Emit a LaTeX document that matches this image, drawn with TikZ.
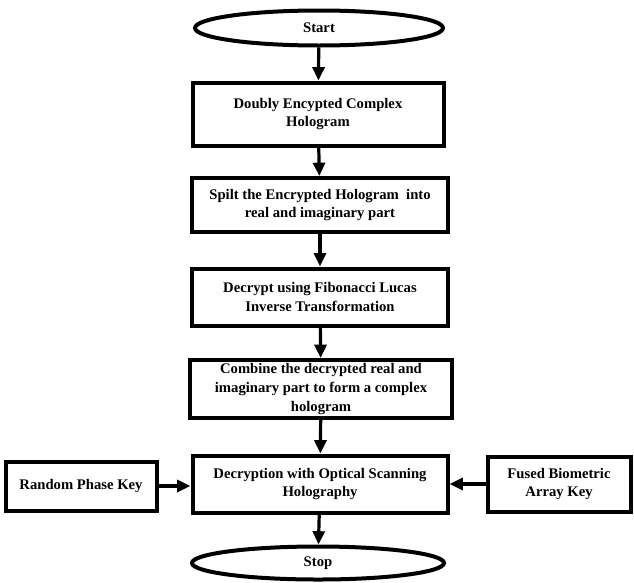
\documentclass[tikz,border=0pt]{standalone}
\usepackage{fontspec}
\setmainfont{Liberation Serif}
\usetikzlibrary{shapes.geometric,arrows.meta}
\begin{document}
\begin{tikzpicture}[x=0.75pt,y=-0.75pt,
  every node/.style={font=\bfseries\fontsize{11}{14}\selectfont, align=center, inner sep=0pt},
  procbox/.style={draw, line width=3pt, rectangle},
  term/.style={draw, line width=3pt, ellipse},
  flow/.style={line width=2.4pt, -{Triangle[length=10pt,width=9pt]}}]
\useasboundingbox (0,0) rectangle (634,582);
\node[term, minimum width=248*0.75pt, minimum height=35*0.75pt] (start) at (319,28) {Start};
\node[procbox, minimum width=251*0.75pt, minimum height=63*0.75pt] (b1) at (318,114) {Doubly Encypted Complex\\Hologram};
\node[procbox, minimum width=256*0.75pt, minimum height=54*0.75pt] (b2) at (320,205) {Spilt the Encrypted Hologram\ \ into\\real and imaginary part};
\node[procbox, minimum width=256*0.75pt, minimum height=57*0.75pt] (b3) at (320,297) {Decrypt using Fibonacci Lucas\\Inverse Transformation};
\node[procbox, minimum width=262*0.75pt, minimum height=58*0.75pt] (b4) at (321,389) {Combine the decrypted real and\\imaginary part to form a complex\\hologram};
\node[procbox, minimum width=255*0.75pt, minimum height=57*0.75pt] (b5) at (320,484) {Decryption with Optical Scanning\\Holography};
\node[procbox, minimum width=151*0.75pt, minimum height=49*0.75pt] (rp) at (81,486) {Random Phase Key};
\node[procbox, minimum width=143*0.75pt, minimum height=55*0.75pt] (fb) at (559,484) {Fused Biometric\\Array Key};
\node[term, minimum width=252*0.75pt, minimum height=33*0.75pt] (stop) at (318,563) {Stop};
\draw[flow] (start) -- (b1);
\draw[flow] (b1) -- (b2);
\draw[flow] (b2) -- (b3);
\draw[flow] (b3) -- (b4);
\draw[flow] (b4) -- (b5);
\draw[flow] (b5) -- (stop);
\draw[flow] (rp) -- (rp -| b5.west);
\draw[flow] (fb) -- (fb -| b5.east);
\end{tikzpicture}
\end{document}
